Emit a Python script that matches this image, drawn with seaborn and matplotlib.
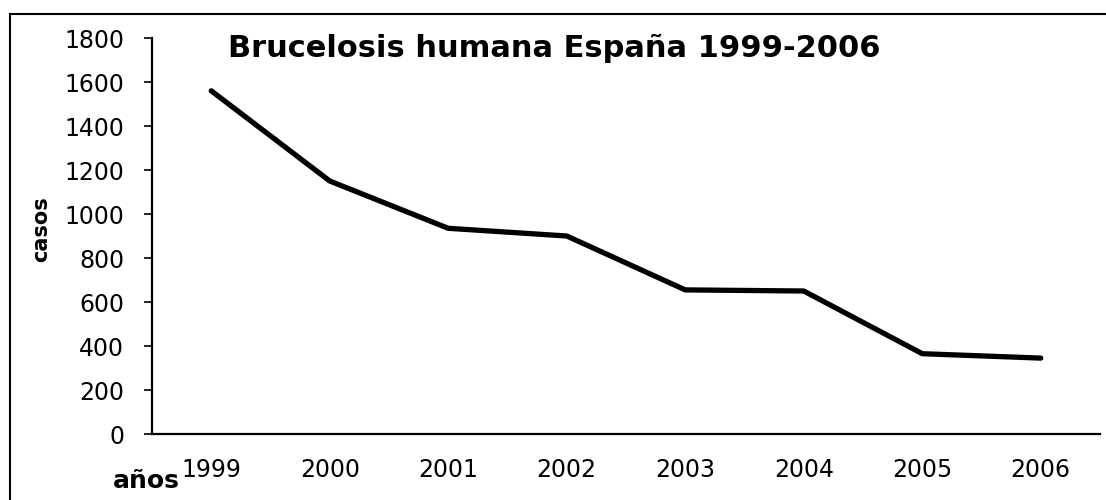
import matplotlib
matplotlib.use("Agg")
import matplotlib.pyplot as plt
import seaborn as sns
import pandas as pd
from matplotlib.patches import Rectangle

years = ["1999", "2000", "2001", "2002", "2003", "2004", "2005", "2006"]
cases = [1560, 1150, 935, 900, 655, 650, 365, 345]
y_ticks = [0, 200, 400, 600, 800, 1000, 1200, 1400, 1600, 1800]

sns.set_style("white")
plt.rcParams['font.family'] = ['DejaVu Sans']
plt.rcParams['text.color'] = 'black'
plt.rcParams['xtick.color'] = 'black'
plt.rcParams['ytick.color'] = 'black'

df = pd.DataFrame({"year": years, "casos": cases})

fig = plt.figure(figsize=(11.06, 5.0), dpi=100)
ax = fig.add_axes([152 / 1106, 1 - 434 / 500, (1100 - 152) / 1106, (434 - 38) / 500])

sns.lineplot(data=df, x="year", y="casos", color="black", linewidth=3.8, ax=ax)

ax.set_xlim(-0.5, 7.5)
ax.set_ylim(0, 1800)
ax.set_yticks(y_ticks)
ax.set_yticklabels([str(v) for v in y_ticks], fontsize=17)
ax.tick_params(axis="y", direction="out", length=6, width=1.2, pad=14, left=True)
ax.tick_params(axis="x", length=0, pad=17, labelsize=17)

for s in ["top", "right"]:
    ax.spines[s].set_visible(False)
for s in ["left", "bottom"]:
    ax.spines[s].set_color("black")
    ax.spines[s].set_linewidth(1.6)

ax.set_xlabel("")
ax.set_ylabel("")
fig.text(41 / 1106, 1 - 229 / 500, "casos", rotation=90, fontsize=15, fontweight="bold",
         ha="center", va="center")
fig.text(146 / 1106, 1 - 481 / 500, "años", fontsize=18, fontweight="bold",
         ha="center", va="center")
fig.text(228 / 1106, 1 - 48 / 500, "Brucelosis humana España 1999-2006", fontsize=22,
         fontweight="bold", ha="left", va="center")

# outer frame of the scanned chart
fig.patches.append(Rectangle((10 / 1106, -0.05), 1.2, 1 - 14 / 500 + 0.05,
                             transform=fig.transFigure, fill=False,
                             edgecolor="black", linewidth=1.5))

fig.savefig("out.png", dpi=100, facecolor="white")
